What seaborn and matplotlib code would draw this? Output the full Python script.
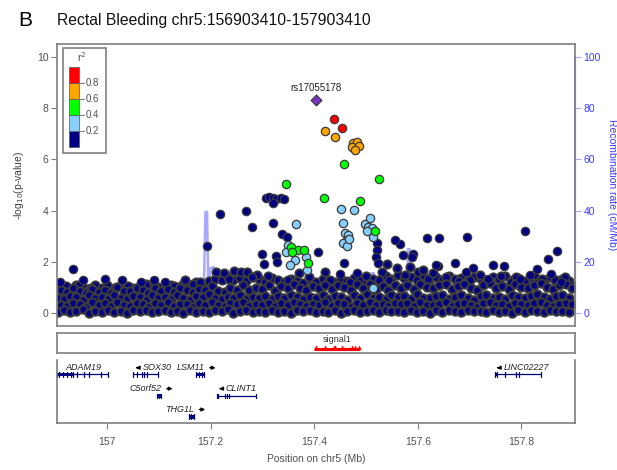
import matplotlib
matplotlib.use('Agg')
import matplotlib.pyplot as plt
import seaborn as sns
from matplotlib.patches import Rectangle

# ---- association data (-log10 p) ----
lead_pos = [157.403]
lead_p = [8.32]
red_pos = [157.439, 157.453]
red_p = [7.58, 7.24]
orange_pos = [157.420, 157.440, 157.475, 157.482, 157.472, 157.487, 157.479]
orange_p = [7.11, 6.88, 6.63, 6.69, 6.50, 6.52, 6.37]
green_pos = [157.457, 157.525, 157.346, 157.418, 157.489, 157.517, 157.356, 157.369, 157.380, 157.358, 157.387]
green_p = [5.83, 5.22, 5.03, 4.50, 4.39, 3.20, 2.59, 2.46, 2.46, 2.39, 1.96]
lblue_pos = [157.364, 157.452, 157.477, 157.455, 157.498, 157.508, 157.504, 157.511, 157.514, 157.502,
             157.459, 157.466, 157.463, 157.456, 157.463, 157.468, 157.350, 157.363, 157.353, 157.385,
             157.345, 157.386, 157.511, 157.514]
lblue_p = [3.46, 4.06, 4.01, 3.53, 3.46, 3.70, 3.37, 3.31, 2.98, 3.20,
           3.11, 3.05, 2.85, 2.72, 2.63, 2.90, 2.66, 2.07, 1.88, 2.20,
           2.40, 1.70, 1.00, 1.00]

# r2 < 0.2, scattered points above the main band
navy_pos = [157.306, 157.313, 157.320, 157.327, 157.335, 157.321, 157.341, 157.219, 157.268, 157.279,
            157.320, 157.337, 157.348, 157.193, 157.300, 157.303, 157.407, 157.458, 157.450, 157.482,
            157.521, 157.522, 157.520, 157.523, 157.565, 157.590, 157.572, 157.617, 157.641, 157.694,
            157.638, 157.672, 157.707, 157.746, 157.693, 157.807, 157.868, 157.852, 157.766, 157.831,
            157.817, 157.858, 157.876, 157.736, 157.797, 156.935, 156.909, 156.996, 157.028, 157.066,
            157.091, 157.112, 156.954, 157.326, 157.328, 157.556, 157.588, 157.636]
navy_p = [4.50, 4.52, 4.50, 4.47, 4.50, 4.28, 4.45, 3.85, 4.00, 3.35,
          3.53, 3.07, 2.98, 2.62, 2.30, 1.93, 2.37, 1.97, 1.51, 1.58,
          2.72, 2.45, 2.20, 1.95, 2.70, 2.30, 2.27, 2.94, 2.92, 2.98,
          1.85, 1.94, 1.75, 1.89, 1.61, 3.20, 2.42, 2.13, 1.85, 1.72,
          1.48, 1.52, 1.20, 1.33, 1.33, 1.71, 1.22, 1.32, 1.29, 1.22,
          1.29, 1.22, 1.29, 2.23, 2.00, 2.85, 2.20, 1.88]

# top fringe of the dense band
fringe_pos = [156.920, 156.945, 156.970, 157.000, 157.040, 157.075, 157.130, 157.150, 157.165, 157.180,
              157.210, 157.225, 157.245, 157.258, 157.270, 157.290, 157.310, 157.350, 157.370, 157.390,
              157.420, 157.430, 157.470, 157.500, 157.530, 157.545, 157.560, 157.575, 157.600, 157.620,
              157.655, 157.680, 157.720, 157.760, 157.780, 157.840, 157.885, 157.235, 157.280, 157.540,
              157.585, 157.610, 157.630, 157.700, 157.740, 157.790, 157.825, 157.865, 157.895]
fringe_p = [1.05, 1.10, 1.00, 1.10, 1.05, 1.10, 1.05, 1.30, 1.15, 1.20,
            1.60, 1.58, 1.65, 1.60, 1.62, 1.50, 1.45, 1.30, 1.55, 1.40,
            1.60, 1.30, 1.20, 1.45, 1.60, 1.30, 1.75, 1.50, 1.60, 1.35,
            1.40, 1.25, 1.50, 1.45, 1.20, 1.35, 1.40, 1.35, 1.40, 1.90,
            1.80, 1.70, 1.55, 1.30, 1.25, 1.40, 1.50, 1.30, 1.10]

# dense band of SNPs between 0 and ~1.3
band_pos_a = [156.905, 156.917, 156.929, 156.940, 156.953, 156.966, 156.977, 156.990, 157.002, 157.014,
              157.027, 157.038, 157.050, 157.063, 157.075, 157.086, 157.099, 157.111, 157.124, 157.136,
              157.147, 157.160, 157.172, 157.185, 157.196, 157.208, 157.221, 157.233, 157.244, 157.257,
              157.269, 157.281, 157.294, 157.305, 157.318, 157.330, 157.342, 157.355, 157.366, 157.379,
              157.391, 157.403, 157.416, 157.427, 157.440, 157.452, 157.464, 157.477, 157.488, 157.501,
              157.513, 157.525, 157.538, 157.549, 157.562, 157.574, 157.586, 157.599, 157.610, 157.623,
              157.635, 157.647, 157.660, 157.671, 157.684, 157.696, 157.708, 157.721, 157.732, 157.745,
              157.757, 157.769, 157.782, 157.793, 157.806, 157.818, 157.830, 157.843, 157.855, 157.867,
              157.879, 157.892]
band_pos_b = [156.911, 156.923, 156.934, 156.947, 156.959, 156.971, 156.984, 156.996, 157.008, 157.020,
              157.032, 157.044, 157.057, 157.069, 157.080, 157.093, 157.105, 157.118, 157.130, 157.141,
              157.154, 157.166, 157.178, 157.190, 157.202, 157.215, 157.227, 157.238, 157.251, 157.263,
              157.275, 157.288, 157.299, 157.312, 157.324, 157.336, 157.349, 157.360, 157.373, 157.385,
              157.397, 157.410, 157.421, 157.434, 157.446, 157.458, 157.471, 157.482, 157.495, 157.507,
              157.519, 157.532, 157.543, 157.556, 157.568, 157.580, 157.593, 157.604, 157.617, 157.629,
              157.641, 157.654, 157.665, 157.678, 157.690, 157.702, 157.715, 157.726, 157.739, 157.751,
              157.763, 157.776, 157.787, 157.800, 157.812, 157.824, 157.837, 157.849, 157.861, 157.873,
              157.886, 157.898]
band_row0 = [0.05, 0.12, 0.03, 0.08, 0.15, 0.02, 0.10, 0.06, 0.13, 0.04, 0.09, 0.01, 0.11, 0.07, 0.14, 0.03,
             0.08, 0.12, 0.05, 0.10, 0.02, 0.13, 0.06, 0.09, 0.04, 0.11, 0.07, 0.15, 0.02, 0.08, 0.12, 0.05,
             0.10, 0.03, 0.14, 0.06, 0.09, 0.01, 0.11, 0.07, 0.13, 0.04, 0.10, 0.06, 0.12, 0.02, 0.09, 0.14,
             0.05, 0.08, 0.11, 0.03, 0.13, 0.07, 0.10, 0.04, 0.12, 0.06, 0.09, 0.02, 0.14, 0.05, 0.11, 0.08,
             0.03, 0.12, 0.07, 0.10, 0.04, 0.13, 0.06, 0.09, 0.02, 0.11, 0.05, 0.14, 0.08, 0.03, 0.12, 0.07,
             0.10, 0.05]
band_row1 = [0.32, 0.28, 0.40, 0.35, 0.26, 0.44, 0.30, 0.38, 0.27, 0.42, 0.33, 0.29, 0.41, 0.36, 0.25, 0.39,
             0.31, 0.43, 0.28, 0.37, 0.34, 0.26, 0.40, 0.30, 0.45, 0.32, 0.27, 0.38, 0.35, 0.42, 0.29, 0.36,
             0.33, 0.41, 0.28, 0.39, 0.30, 0.44, 0.34, 0.27, 0.37, 0.31, 0.43, 0.29, 0.40, 0.35, 0.26, 0.38,
             0.32, 0.42, 0.30, 0.36, 0.28, 0.41, 0.34, 0.39, 0.27, 0.44, 0.33, 0.30, 0.37, 0.42, 0.29, 0.35,
             0.40, 0.31, 0.26, 0.38, 0.43, 0.32, 0.36, 0.28, 0.41, 0.34, 0.30, 0.39, 0.45, 0.33, 0.27, 0.37,
             0.40, 0.35]
band_row2 = [0.60, 0.55, 0.68, 0.62, 0.52, 0.70, 0.58, 0.65, 0.54, 0.72, 0.61, 0.57, 0.66, 0.63, 0.50, 0.69,
             0.59, 0.64, 0.56, 0.71, 0.60, 0.53, 0.67, 0.62, 0.74, 0.58, 0.55, 0.65, 0.61, 0.70, 0.57, 0.63,
             0.60, 0.68, 0.54, 0.66, 0.59, 0.72, 0.62, 0.56, 0.64, 0.60, 0.70, 0.57, 0.67, 0.63, 0.52, 0.69,
             0.61, 0.73, 0.58, 0.65, 0.55, 0.71, 0.62, 0.68, 0.56, 0.74, 0.60, 0.58, 0.66, 0.70, 0.57, 0.64,
             0.69, 0.61, 0.53, 0.67, 0.72, 0.59, 0.65, 0.56, 0.71, 0.63, 0.60, 0.68, 0.75, 0.62, 0.55, 0.66,
             0.70, 0.60]
band_row3 = [0.90, 0.82, 1.00, 0.86, 0.80, 0.95, 0.84, 0.92, 0.78, 1.02, 0.88, 0.85, 0.97, 0.90, 0.80, 0.98,
             0.86, 0.93, 0.83, 1.00, 0.89, 0.81, 0.96, 0.91, 1.05, 0.87, 0.84, 0.99, 0.92, 1.08, 0.90, 1.00,
             0.95, 1.10, 0.88, 1.05, 0.97, 1.12, 1.00, 0.90, 1.06, 0.98, 1.10, 0.93, 1.08, 1.02, 0.90, 1.12,
             0.99, 1.15, 0.95, 1.05, 0.92, 1.10, 1.00, 1.08, 0.94, 1.14, 1.02, 0.97, 1.10, 1.15, 0.95, 1.06,
             1.12, 1.00, 0.92, 1.09, 1.16, 0.98, 1.07, 0.94, 1.13, 1.03, 0.99, 1.10, 1.18, 1.02, 0.95, 1.08,
             1.12, 1.00]
band_row4 = [0.98, 1.05, 0.95, 1.10, 1.02, 0.96, 1.08, 1.00, 1.04, 0.97, 1.10, 1.02, 0.99, 1.06, 1.12, 1.00,
             1.04, 0.98, 1.08, 1.02, 1.15, 1.05, 1.20, 1.10, 1.25, 1.35, 1.28, 1.42, 1.30, 1.38, 1.25, 1.40,
             1.32, 1.22, 1.36, 1.28, 1.20, 1.34, 1.26, 1.18, 1.30, 1.22, 1.35, 1.27, 1.20, 1.32, 1.25, 1.38,
             1.30, 1.22, 1.35, 1.28, 1.45, 1.32, 1.50, 1.38, 1.42, 1.30, 1.48, 1.35, 1.40, 1.28, 1.45, 1.33,
             1.38, 1.30, 1.42, 1.35, 1.28, 1.40, 1.32, 1.45, 1.30, 1.38, 1.25, 1.42, 1.35, 1.30, 1.40, 1.28,
             1.35, 1.25]

# recombination rate (cM/Mb)
recomb_pos = [156.903, 156.930, 156.960, 157.000, 157.050, 157.100, 157.150, 157.186, 157.190, 157.193,
              157.196, 157.199, 157.206, 157.210, 157.250, 157.300, 157.350, 157.400, 157.450, 157.500,
              157.508, 157.511, 157.515, 157.519, 157.530, 157.570, 157.578, 157.581, 157.584, 157.590,
              157.620, 157.700, 157.800, 157.903]
recomb_rate = [1, 2, 1, 0.5, 1, 2, 1, 1, 39.5, 39.5,
               5, 17.5, 18, 2, 1, 0.5, 1, 2, 0.5, 1,
               1, 15.6, 15.6, 2, 1, 1, 1, 25, 25, 1,
               0.5, 1, 2, 1]

# credible set (signal1)
signal_start, signal_end = 157.400, 157.489
signal_snps = [157.403, 157.420, 157.439, 157.440, 157.453, 157.472, 157.479, 157.487]

# genes
gene_names = ['ADAM19', 'SOX30', 'LSM11', 'LINC02227', 'C5orf52', 'CLINT1', 'THG1L']
gene_start = [156.9025, 157.051, 157.172, 157.748, 157.097, 157.212, 157.158]
gene_end = [157.001, 157.098, 157.188, 157.838, 157.105, 157.287, 157.168]
gene_strand = ['-', '-', '+', '-', '+', '-', '+']
gene_row = [0, 0, 0, 0, 1, 1, 2]
gene_exons = [[156.9025, 156.908, 156.915, 156.922, 156.930, 156.935, 156.942, 156.955, 156.965, 156.988, 157.001],
              [157.051, 157.058, 157.068, 157.072, 157.078, 157.098],
              [157.172, 157.178, 157.183, 157.188],
              [157.748, 157.752, 157.768, 157.790, 157.795, 157.838],
              [157.097, 157.101, 157.105],
              [157.212, 157.215, 157.228, 157.232, 157.236, 157.287],
              [157.158, 157.163, 157.168]]
gene_thick = [(156.9025, 156.935), (157.051, 157.053), (157.172, 157.188), (157.748, 157.753),
              (157.097, 157.105), (157.212, 157.216), (157.158, 157.168)]

ld_colors = ['#000080', '#87CEFA', '#00FF00', '#FFA500', '#FF0000']
ld_breaks = ['0.2', '0.4', '0.6', '0.8']

XLIM = (156.9034, 157.9034)
GRAY = '#7f7f7f'
TXT = '#505050'

sns.set_style('white')
plt.rcParams['font.family'] = ['Liberation Sans', 'DejaVu Sans']

fig = plt.figure(figsize=(6.17, 4.70), dpi=100)
ax = fig.add_axes([57 / 617, 1 - 326 / 470, 518 / 617, 282 / 470])
ax2 = ax.twinx()
ax_sig = fig.add_axes([57 / 617, 1 - 353 / 470, 518 / 617, 20 / 470])
ax_gene = fig.add_axes([57 / 617, 1 - 423 / 470, 518 / 617, 63 / 470])

# recombination line behind the points
sns.lineplot(x=recomb_pos, y=recomb_rate, ax=ax2, color='#6f6fff', lw=1.8, alpha=0.6,
             sort=False, estimator=None)
ax.set_zorder(ax2.get_zorder() + 1)
ax.patch.set_visible(False)


def dots(pos, vals, color, s=36, marker='o', lw=0.9):
    sns.scatterplot(x=pos, y=vals, ax=ax, color=color, s=s, marker=marker,
                    edgecolor='#3c3c3c', linewidth=lw, legend=False)


# the dense low band: heavy grey outlines, as in the crowded original
dots(band_pos_a, band_row4, ld_colors[0], lw=1.3)
dots(fringe_pos, fringe_p, ld_colors[0], lw=1.3)
dots(band_pos_b, band_row3, ld_colors[0], lw=1.5)
dots(band_pos_a, band_row2, ld_colors[0], lw=1.5)
dots(band_pos_b, band_row1, ld_colors[0], lw=1.5)
dots(band_pos_a, band_row0, ld_colors[0], lw=1.5)
dots(navy_pos, navy_p, ld_colors[0])
dots(lblue_pos, lblue_p, ld_colors[1])
dots(green_pos, green_p, ld_colors[2])
dots(orange_pos, orange_p, ld_colors[3])
dots(red_pos, red_p, ld_colors[4])
dots(lead_pos, lead_p, '#7B2FBE', s=30, marker='D')
ax.text(lead_pos[0], lead_p[0] + 0.45, 'rs17055178', ha='center', va='center', fontsize=7, color='#222222')

ax.set_xlim(XLIM)
ax.set_ylim(-0.5, 10.5)
ax.set_xticks([])
ax.set_yticks(range(0, 11, 2))
ax.tick_params(axis='y', left=True, length=4, color=GRAY, labelsize=7.5, labelcolor=TXT, pad=2)
ax.set_ylabel('-log$_{10}$(p-value)', fontsize=7.5, color='#404040', labelpad=8)
for sp in ax.spines.values():
    sp.set_color(GRAY)
    sp.set_linewidth(1.2)

ax2.set_ylim(-5, 105)
ax2.set_yticks(range(0, 101, 20))
ax2.tick_params(axis='y', right=True, length=4, color='#a8a8f0', labelsize=7.5, labelcolor='#3a3aff', pad=2)
for k in ['top', 'left', 'bottom']:
    ax2.spines[k].set_visible(False)
ax2.spines['right'].set_bounds(0, 100)
ax2.spines['right'].set_color('#a8a8f0')
ax2.spines['right'].set_linewidth(1.6)
ax2.set_ylabel('Recombination rate (cM/Mb)', rotation=270, fontsize=7.5, color='#3a3aff', labelpad=12)

# r2 legend box
ax.add_patch(Rectangle((0.0116, 0.6135), 0.083, 0.3725, transform=ax.transAxes, fill=False,
                       edgecolor=GRAY, lw=1.2, zorder=5))
seg_h = 0.0567
for i, c in enumerate(ld_colors):
    ax.add_patch(Rectangle((0.023, 0.635 + i * seg_h), 0.0195, seg_h, transform=ax.transAxes,
                           facecolor=c, edgecolor='#555555', lw=0.5, zorder=6))
for i, lab in enumerate(ld_breaks):
    yy = 0.635 + (i + 1) * seg_h
    ax.plot([0.0425, 0.052], [yy, yy], transform=ax.transAxes, color=GRAY, lw=0.8, zorder=6)
    ax.text(0.055, yy, lab, transform=ax.transAxes, fontsize=7, color=TXT, va='center', zorder=6)
ax.text(0.048, 0.955, 'r$^2$', transform=ax.transAxes, fontsize=7.5, color=TXT, ha='center', va='center', zorder=6)

# signal panel
ax_sig.set_xlim(XLIM)
ax_sig.set_ylim(0, 1)
ax_sig.plot([signal_start, signal_end], [0.22, 0.22], color='red', lw=2.2, solid_capstyle='butt')
sns.scatterplot(x=signal_snps, y=[0.3] * len(signal_snps), ax=ax_sig, color='red', marker='^', s=8,
                linewidth=0, legend=False)
ax_sig.text((signal_start + signal_end) / 2, 0.66, 'signal1', ha='center', va='center', fontsize=6.5, color='#333333')
ax_sig.set_xticks([])
ax_sig.set_yticks([])
for sp in ax_sig.spines.values():
    sp.set_color(GRAY)
    sp.set_linewidth(1.2)

# gene panel
row_body = [0.77, 0.428, 0.10]
row_label = [0.877, 0.545, 0.214]
navy = '#000080'
for name, g0, g1, strand, row, exons, thick in zip(gene_names, gene_start, gene_end, gene_strand,
                                                     gene_row, gene_exons, gene_thick):
    yb = row_body[row]
    yl = row_label[row]
    ax_gene.plot([g0, g1], [yb, yb], color=navy, lw=0.9)
    for e in exons:
        ax_gene.plot([e, e], [yb - 0.035, yb + 0.035], color=navy, lw=0.9)
    ax_gene.add_patch(Rectangle((thick[0], yb - 0.03), thick[1] - thick[0], 0.06, color=navy, lw=0))
    if strand == '-':
        ax_gene.annotate('', xy=(g0 - 0.001, yl), xytext=(g0 + 0.014, yl),
                         arrowprops=dict(arrowstyle='-|>', color='black', lw=1.0, mutation_scale=5))
        ax_gene.text(g0 + 0.017, yl, name, fontsize=6.5, style='italic', ha='left', va='center', color='#222222')
    else:
        ax_gene.text(g1, yl, name, fontsize=6.5, style='italic', ha='right', va='center', color='#222222')
        ax_gene.annotate('', xy=(g1 + 0.027, yl), xytext=(g1 + 0.005, yl),
                         arrowprops=dict(arrowstyle='-|>', color='black', lw=1.0, mutation_scale=5))

ax_gene.set_xlim(XLIM)
ax_gene.set_ylim(0, 1)
ax_gene.set_yticks([])
ax_gene.set_xticks([157.0, 157.2, 157.4, 157.6, 157.8])
ax_gene.set_xticklabels(['157', '157.2', '157.4', '157.6', '157.8'])
ax_gene.tick_params(axis='x', bottom=True, length=4, color=GRAY, labelsize=7.5, labelcolor=TXT, pad=6)
ax_gene.spines['top'].set_visible(False)
for k in ['left', 'right', 'bottom']:
    ax_gene.spines[k].set_color(GRAY)
    ax_gene.spines[k].set_linewidth(1.2)
ax_gene.set_xlabel('Position on chr5 (Mb)', fontsize=7.5, color=TXT, labelpad=5)

# titles
fig.text(18 / 617, 1 - 20 / 470, 'B', fontsize=15, va='center', ha='left', color='black')
fig.text(57 / 617, 1 - 20 / 470, 'Rectal Bleeding chr5:156903410-157903410', fontsize=11.3,
         va='center', ha='left', color='#111111')

fig.savefig('out.png', dpi=100)
